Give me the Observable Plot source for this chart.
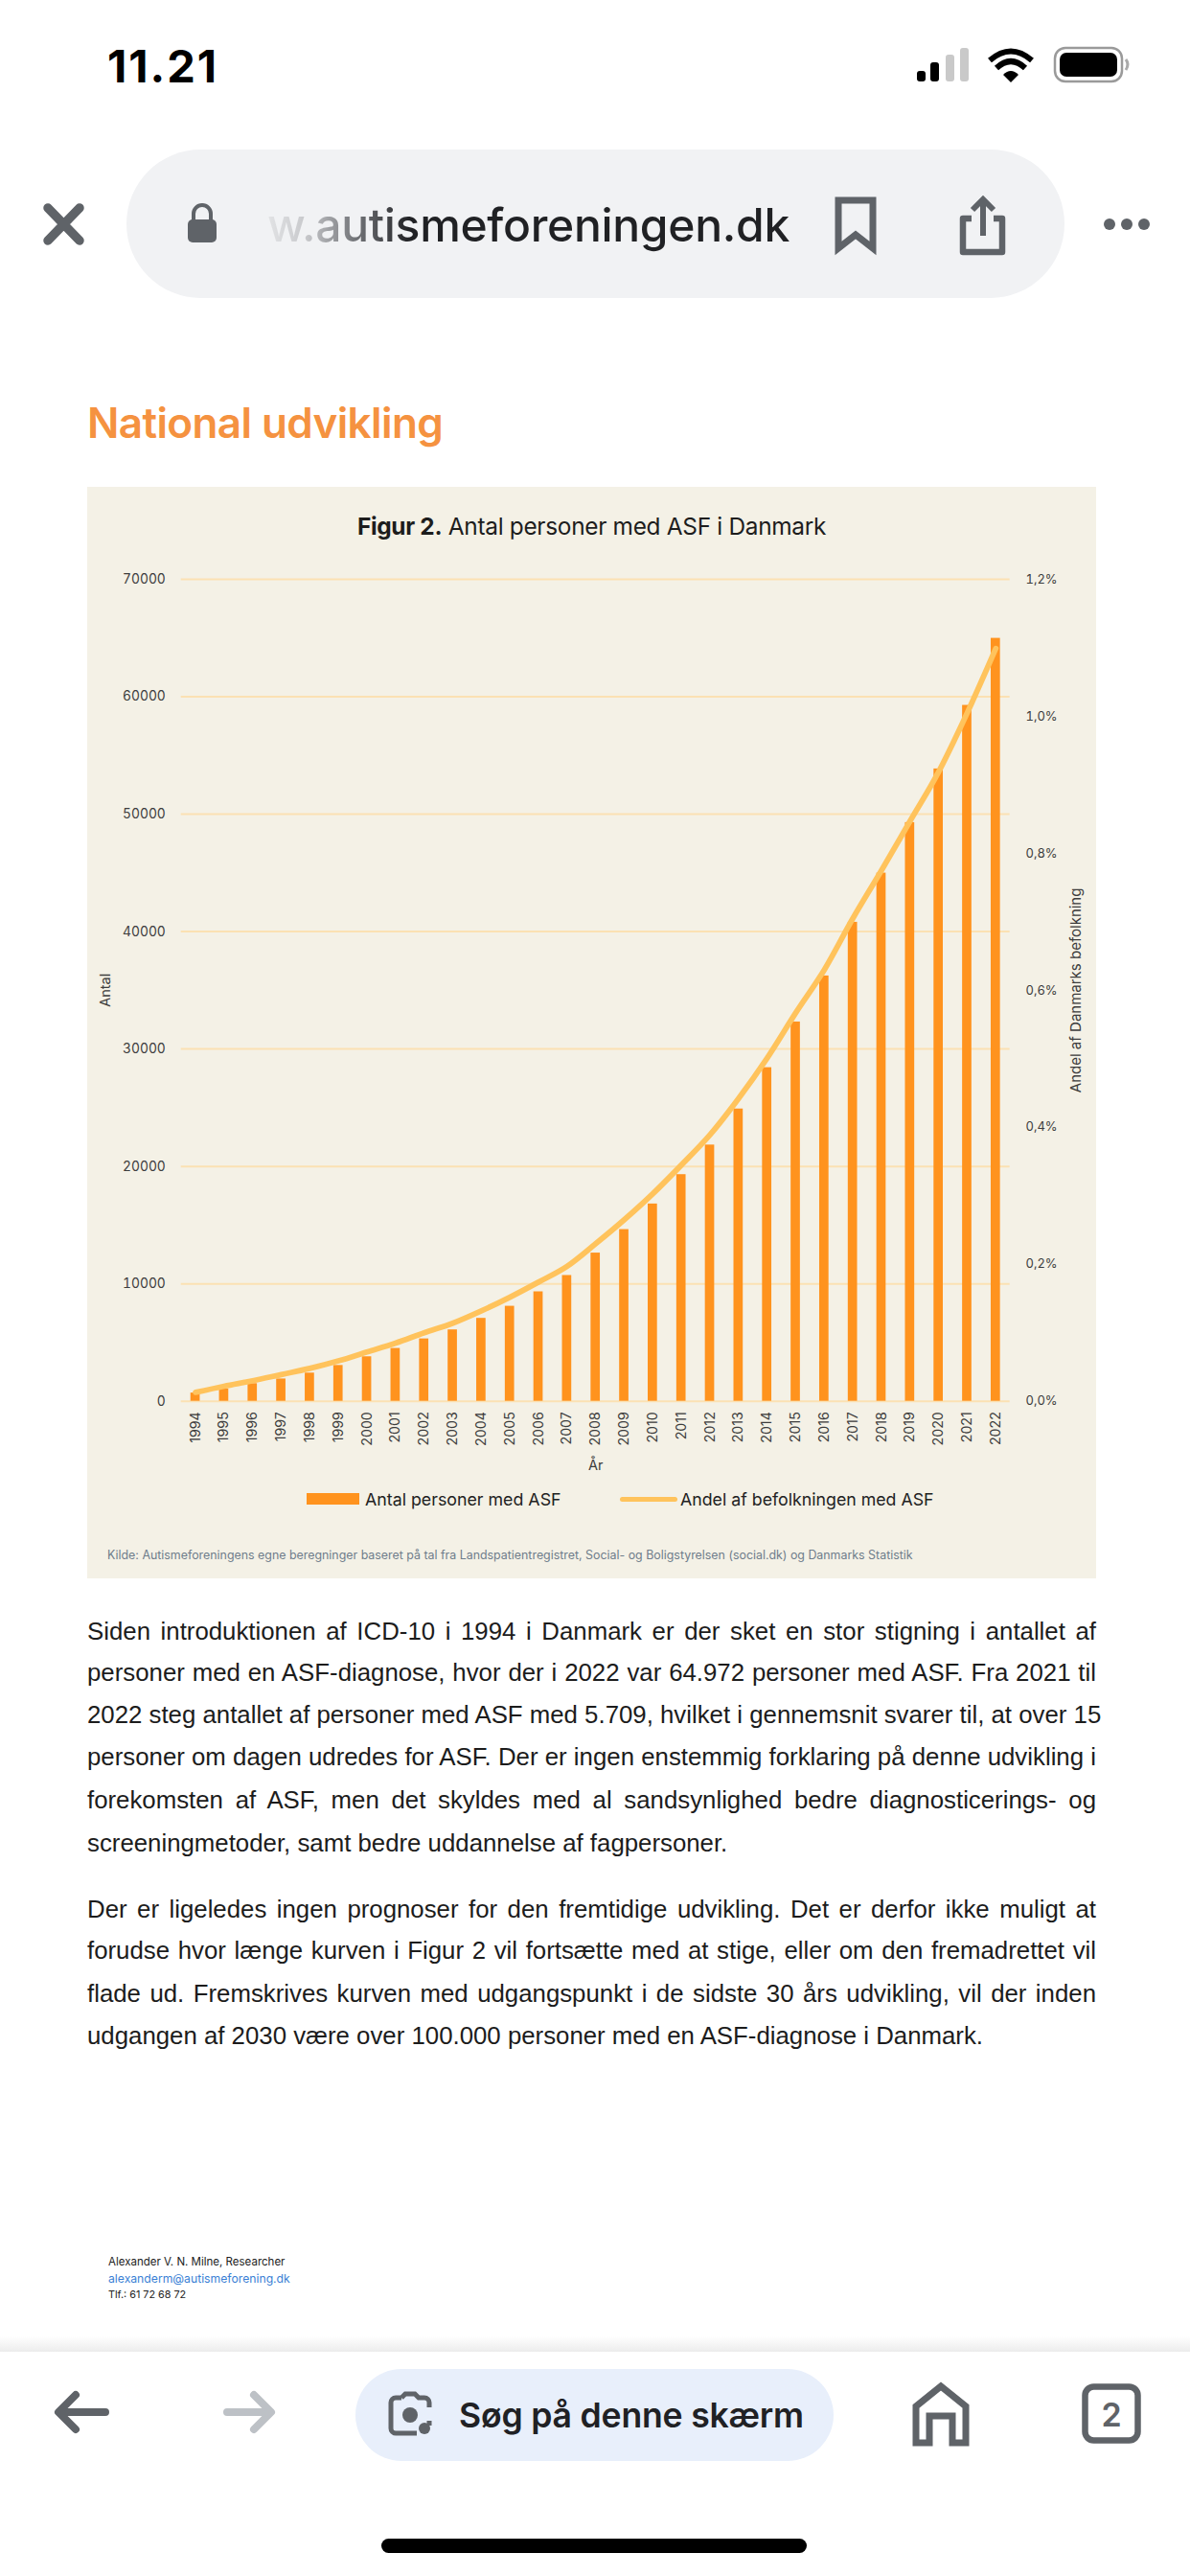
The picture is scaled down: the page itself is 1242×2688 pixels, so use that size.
<!DOCTYPE html>
<html lang="da">
<head>
<meta charset="utf-8">
<title>Antal personer med ASF i Danmark</title>
<script src="https://cdn.jsdelivr.net/npm/d3@7"></script>
<script src="https://cdn.jsdelivr.net/npm/@observablehq/plot@0.6"></script>
<style>
html,body{margin:0;padding:0;background:#fff}
#page{position:relative;width:1242px;height:2688px;overflow:hidden;background:#fff;font-family:Inter,sans-serif;color:#1d1d1f}
.a{position:absolute;white-space:nowrap}
.c{transform:translateY(-50%)}
.p{position:absolute;left:91px;width:1053px;font:25.8px/1.2 "Liberation Sans",Arial,sans-serif;color:#1c1c1c;white-space:nowrap;text-align:justify;text-align-last:justify;transform:translateY(-50%)}
.p.l{text-align:left;text-align-last:left}
#panel{position:absolute;left:91px;top:508px;width:1053px;height:1139px;background:#f4f1e6}
#chart svg{display:block;position:absolute;left:0;top:0;background:transparent}
svg.i{position:absolute;overflow:visible}
</style>
</head>
<body>
<div id="page">
  <!-- status bar -->
  <div class="a c" style="left:112px;top:68px;font:700 47px Inter;color:#000;letter-spacing:2px">11.21</div>
  <svg class="i" style="left:955px;top:48px" width="240" height="40" viewBox="0 0 240 40">
    <rect x="2" y="26" width="9" height="11" rx="3" fill="#000"/>
    <rect x="16" y="17" width="9" height="20" rx="3" fill="#000"/>
    <rect x="32" y="9" width="9" height="28" rx="3" fill="#c9c9c9"/>
    <rect x="47" y="2" width="9" height="35" rx="3" fill="#c9c9c9"/>
    <path d="M78 15 Q100 -4 122 15" stroke="#000" stroke-width="6" fill="none"/>
    <path d="M85 23 Q100 9 115 23" stroke="#000" stroke-width="6" fill="none"/>
    <path d="M92 30 L100 38 L108 30 Q100 22 92 30Z" fill="#000"/>
    <rect x="146" y="2" width="70" height="35" rx="11" fill="none" stroke="#9a9a9a" stroke-width="2.5"/>
    <rect x="151" y="7" width="60" height="25" rx="7" fill="#000"/>
    <path d="M220 14 q4 5 0 11" stroke="#aaa" stroke-width="3" fill="none"/>
  </svg>

  <!-- browser toolbar -->
  <div class="a" style="left:132px;top:156px;width:979px;height:155px;border-radius:78px;background:#f1f2f4"></div>
  <svg class="i" style="left:44px;top:212px" width="46" height="46"><path d="M6 5 L39 39 M39 5 L6 39" stroke="#5f6368" stroke-width="9.5" stroke-linecap="round"/></svg>
  <svg class="i" style="left:194px;top:212px" width="34" height="42"><path d="M8 18 V11 a9 9 0 0 1 18 0 V18" fill="none" stroke="#5f6368" stroke-width="4"/><rect x="2" y="17" width="30" height="24" rx="5" fill="#5f6368"/></svg>
  <div class="a c" style="left:279px;top:235px;font:500 48px Inter;letter-spacing:-.3px;background:linear-gradient(90deg,#e2e3e5 0,#c8c9cc 40px,#75777b 90px,#202124 150px);-webkit-background-clip:text;background-clip:text;color:transparent;line-height:1.3">w.autismeforeningen.dk</div>
  <svg class="i" style="left:870px;top:204px" width="48" height="60"><path d="M5 5 H41 V55 L23 41 L5 55Z" fill="none" stroke="#5f6368" stroke-width="7"/></svg>
  <svg class="i" style="left:1000px;top:204px" width="52" height="64"><path d="M14 24 H5 V59 H46 V24 H37" fill="none" stroke="#5f6368" stroke-width="6.5" stroke-linejoin="round"/><path d="M26 42 V6 M15 15 L26 4 L37 15" fill="none" stroke="#5f6368" stroke-width="6"/></svg>
  <svg class="i" style="left:1150px;top:226px" width="54" height="16"><circle cx="8" cy="8" r="6" fill="#5f6368"/><circle cx="26" cy="8" r="6" fill="#5f6368"/><circle cx="44" cy="8" r="6" fill="#5f6368"/></svg>

  <!-- heading -->
  <div class="a c" style="left:91px;top:441px;font:600 44px Inter;color:#f59240;letter-spacing:-.6px">National udvikling</div>

  <!-- chart panel -->
  <div id="panel">
    <div id="chart"></div>
    <div class="a c" style="left:0;right:0;top:41px;text-align:center;font:400 24.4px Inter;color:#1d1d1d;letter-spacing:-.3px"><b style="font-weight:700">Figur 2.</b> Antal personer med ASF i Danmark</div>
    <div class="a" style="left:229px;top:1050px;width:55px;height:12px;background:#ff931e"></div>
    <div class="a c" style="left:290px;top:1056px;font:400 17.8px Inter;color:#222">Antal personer med ASF</div>
    <div class="a" style="left:555.5px;top:1053.5px;width:60px;height:5.5px;border-radius:3px;background:#ffc35c"></div>
    <div class="a c" style="left:619px;top:1056px;font:400 17.75px Inter;color:#222">Andel af befolkningen med ASF</div>
    <div class="a c" style="left:21px;top:1114px;font:400 12.4px Inter;color:#6f7d8b">Kilde: Autismeforeningens egne beregninger baseret på tal fra Landspatientregistret, Social- og Boligstyrelsen (social.dk) og Danmarks Statistik</div>
  </div>

  <!-- body text -->
  <div class="p" style="top:1701.5px">Siden introduktionen af ICD-10 i 1994 i Danmark er der sket en stor stigning i antallet af</div>
  <div class="p" style="top:1745px">personer med en ASF-diagnose, hvor der i 2022 var 64.972 personer med ASF. Fra 2021 til</div>
  <div class="p" style="top:1788.5px">2022 steg antallet af personer med ASF med 5.709, hvilket i gennemsnit svarer til, at over 15</div>
  <div class="p" style="top:1833px">personer om dagen udredes for ASF. Der er ingen enstemmig forklaring på denne udvikling i</div>
  <div class="p" style="top:1878px">forekomsten af ASF, men det skyldes med al sandsynlighed bedre diagnosticerings- og</div>
  <div class="p l" style="top:1923px">screeningmetoder, samt bedre uddannelse af fagpersoner.</div>
  <div class="p" style="top:1991.5px">Der er ligeledes ingen prognoser for den fremtidige udvikling. Det er derfor ikke muligt at</div>
  <div class="p" style="top:2035px">forudse hvor længe kurven i Figur 2 vil fortsætte med at stige, eller om den fremadrettet vil</div>
  <div class="p" style="top:2079.5px">flade ud. Fremskrives kurven med udgangspunkt i de sidste 30 års udvikling, vil der inden</div>
  <div class="p l" style="top:2123.5px">udgangen af 2030 være over 100.000 personer med en ASF-diagnose i Danmark.</div>

  <!-- author -->
  <div class="a c" style="left:113px;top:2360px;font:400 11.5px Inter;color:#222">Alexander V. N. Milne, Researcher</div>
  <div class="a c" style="left:113px;top:2377px;font:400 12.2px Inter;color:#3a7fd5">alexanderm@autismeforening.dk</div>
  <div class="a c" style="left:113px;top:2394px;font:400 10.8px Inter;color:#222">Tlf.: 61 72 68 72</div>

  <!-- bottom bar -->
  <div class="a" style="left:0;top:2438px;width:1242px;height:16px;background:linear-gradient(180deg,#ffffff,#ececec)"></div>
  <svg class="i" style="left:55px;top:2494px" width="58" height="46"><path d="M55 23 H8 M24 5 L6 23 L24 41" fill="none" stroke="#5f6368" stroke-width="8" stroke-linecap="round" stroke-linejoin="round"/></svg>
  <svg class="i" style="left:234px;top:2494px" width="54" height="46"><path d="M3 23 H47 M31 5 L49 23 L31 41" fill="none" stroke="#bdc1c6" stroke-width="8" stroke-linecap="round" stroke-linejoin="round"/></svg>
  <div class="a" style="left:371px;top:2472px;width:499px;height:96px;border-radius:48px;background:#e8effb"></div>
  <svg class="i" style="left:405px;top:2496px" width="46" height="46"><path d="M14 6 L18 2 H28 L32 6 H38 a5 5 0 0 1 5 5 V16 M43 30 V35 M30 43 H8 a5 5 0 0 1 -5 -5 V11 a5 5 0 0 1 5 -5 H14" fill="none" stroke="#5f6368" stroke-width="5"/><circle cx="23" cy="24" r="8" fill="#5f6368"/><circle cx="38" cy="38" r="6" fill="#5f6368"/></svg>
  <div class="a c" style="left:479px;top:2520px;font:600 35.6px Inter;color:#202124;letter-spacing:-.2px">Søg på denne skærm</div>
  <svg class="i" style="left:952px;top:2487px" width="60" height="66"><path d="M4 62 V24 L30 3 L56 24 V62 H42 V34 H18 V62 Z" fill="none" stroke="#5f6368" stroke-width="7"/></svg>
  <svg class="i" style="left:1129px;top:2487px" width="62" height="64"><rect x="3.5" y="3.5" width="55" height="56" rx="9" fill="none" stroke="#5f6368" stroke-width="6.5"/></svg>
  <div class="a c" style="left:1129px;width:62px;top:2519px;text-align:center;font:600 34px Inter;color:#5f6368">2</div>
  <div class="a" style="left:398px;top:2649px;width:444px;height:15px;border-radius:8px;background:#000"></div>
</div>

<script>
const years = [1994,1995,1996,1997,1998,1999,2000,2001,2002,2003,2004,2005,2006,2007,2008,2009,2010,2011,2012,2013,2014,2015,2016,2017,2018,2019,2020,2021,2022];
const antal = [700,1050,1500,1900,2400,3050,3790,4500,5310,6080,7060,8090,9320,10710,12620,14620,16800,19300,21820,24890,28410,32300,36220,40790,44980,49280,53850,59263,64972];
const andel = [0.013,0.022,0.030,0.039,0.048,0.059,0.072,0.085,0.100,0.114,0.132,0.152,0.174,0.197,0.230,0.265,0.303,0.345,0.389,0.442,0.501,0.567,0.630,0.705,0.775,0.847,0.919,1.005,1.099];
const antalTicks = [0,10000,20000,30000,40000,50000,60000,70000];
const andelTicks = [0,0.2,0.4,0.6,0.8,1.0,1.2];
const antalMax = 70000, andelMax = 1.2;

const toAntal = s => s * antalMax / andelMax;
const rows = years.map((year, i) => ({year, antal: antal[i], andel: andel[i]}));
const ink = "#3d3d3d";
const inset = 10.1;

const chart = Plot.plot({
  width: 1053,
  height: 1139,
  marginTop: 96,
  marginBottom: 185.3,
  marginLeft: 87.6,
  marginRight: 80.2,
  style: {background: "transparent", fontFamily: "Inter, sans-serif", fontSize: "13.8px", color: ink, overflow: "visible"},
  x: {type: "band", domain: years, padding: 0.675, round: false},
  y: {domain: [0, antalMax]},
  marks: [
    Plot.ruleY(antalTicks, {stroke: "#fbe1b3", strokeWidth: 2, insetLeft: inset, insetRight: inset}),
    Plot.barY(rows, {x: "year", y: "antal", fill: "#ff931e"}),
    Plot.line(rows, {x: "year", y: d => toAntal(d.andel), stroke: "#ffc35c", strokeWidth: 5.8, strokeLinecap: "round", strokeLinejoin: "round", curve: "monotone-x"}),
    Plot.axisX({tickSize: 0, tickPadding: 11, tickRotate: -90, tickFormat: d => String(d), label: null, fontSize: 14.2, stroke: "none"}),
    Plot.axisX({ticks: [], tickSize: 0, label: "År", labelAnchor: "center", labelArrow: "none", labelOffset: 72, fontSize: 14.5, stroke: "none"}),
    Plot.axisY({anchor: "left", ticks: antalTicks, tickSize: 0, tickPadding: 16.4 - inset, tickFormat: d => String(d), label: null, stroke: "none"}),
    Plot.axisY({anchor: "left", ticks: [], tickSize: 0, label: "Antal", labelAnchor: "center", labelArrow: "none", labelOffset: 74, fontSize: 14.5, stroke: "none"}),
    Plot.axisY({anchor: "right", ticks: andelTicks.map(toAntal), tickSize: 0, tickPadding: 16.3 - inset, tickFormat: d => (d * andelMax / antalMax).toFixed(1).replace(".", ",") + "%", label: null, fontSize: 13, stroke: "none"}),
    Plot.axisY({anchor: "right", ticks: [], tickSize: 0, label: "Andel af Danmarks befolkning", labelAnchor: "center", labelArrow: "none", labelOffset: 63.2, fontSize: 15, stroke: "none"})
  ]
});
document.getElementById("chart").appendChild(chart);
</script>
</body>
</html>
